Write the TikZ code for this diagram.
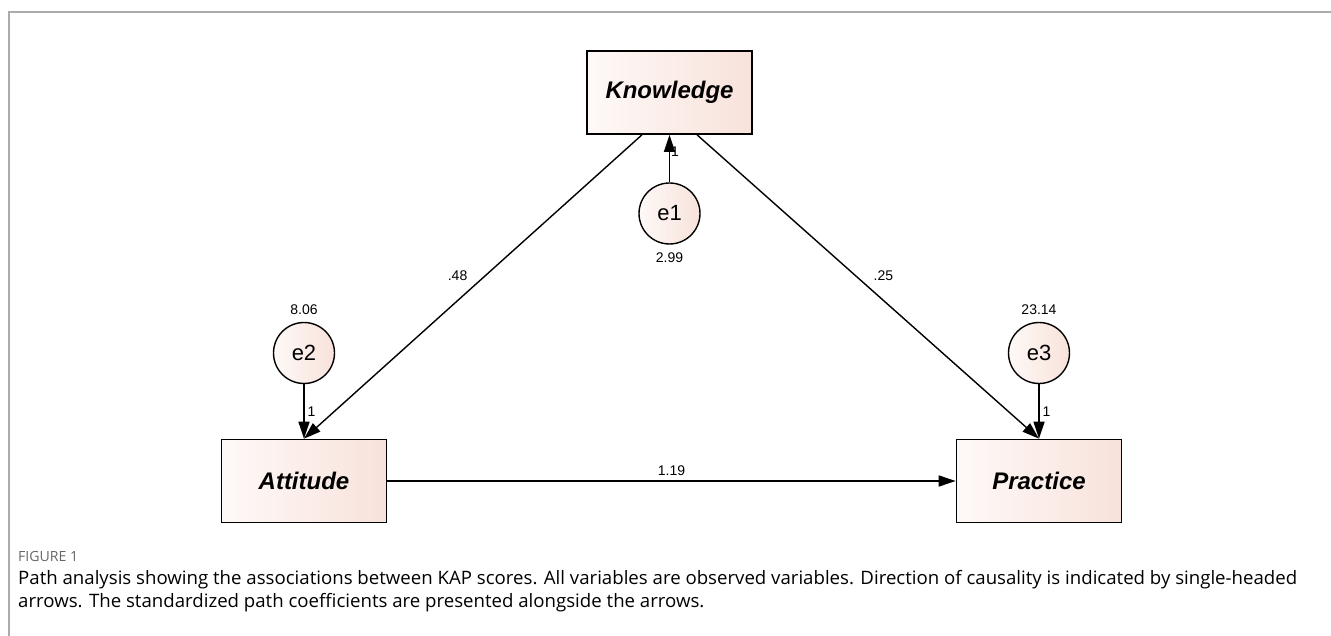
\documentclass[tikz,border=0pt]{standalone}
\usepackage{fontspec}
\setmainfont{Liberation Sans}
\newfontfamily\captionfont{Open Sans}
\usetikzlibrary{arrows.meta}

\definecolor{boxpinkA}{HTML}{F8E2DB}
\definecolor{boxpinkB}{HTML}{FEF9F7}
\definecolor{captiongray}{HTML}{666666}
\definecolor{framegray}{HTML}{ABABAB}

% caption lines, squeezed so that the first line ends where the original does
\newsavebox\caplineone
\newsavebox\caplinetwo
\AtBeginDocument{%
  \sbox\caplineone{\captionfont\fontsize{18.5}{23}\selectfont Path analysis showing the associations between KAP scores. All variables are observed variables. Direction of causality is indicated by single-headed}%
  \sbox\caplinetwo{\captionfont\fontsize{18.5}{23}\selectfont arrows. The standardized path coefficients are presented alongside the arrows.}%
  \pgfmathsetmacro\capsqueeze{1279/\wd\caplineone}%
  \xdef\capsqueeze{\capsqueeze}}

\begin{document}
\begin{tikzpicture}
    [x=1pt,y=-1pt,
     obsvar/.style={draw,line width=1.6pt,rectangle,minimum width=165pt,minimum height=83pt,
       left color=boxpinkB,right color=boxpinkA,font=\fontsize{24}{28}\selectfont\bfseries\itshape},
     errvar/.style={draw,line width=1.4pt,circle,minimum size=61pt,inner sep=0pt,
       left color=boxpinkB,right color=boxpinkA,font=\fontsize{22}{26}\selectfont},
     coef/.style={font=\fontsize{14}{16}\selectfont,inner sep=1pt},
     arr/.style={line width=1.4pt,-{Triangle[length=17pt,width=11pt]}},
     captext/.style={anchor=base west,inner sep=0pt,text=captiongray}]
    \useasboundingbox (0,0) rectangle (1331,636);
    % frame
    \draw[framegray,line width=1.5pt] (9,636) -- (9,12) -- (1331,12);
    % observed variables
    \node[obsvar] (know) at (669.5,92.5) {Knowledge};
    \node[obsvar] (att) at (304,481) {Attitude};
    \node[obsvar] (prac) at (1039,481) {Practice};
    % error terms
    \node[errvar] (e1) at (669.5,213.5) {e1};
    \node[errvar] (e2) at (304,353) {e2};
    \node[errvar] (e3) at (1039,353) {e3};
    \node[coef] (v1) at (669.5,258) {2.99};
    \node[coef] (v2) at (304,310) {8.06};
    \node[coef] (v3) at (1039,310) {23.14};
    % paths
    \draw[arr] (e1) -- (know) node[coef,pos=.65,right] {1};
    \draw[arr] (e2) -- (att) node[coef,midway,right=2pt] {1};
    \draw[arr] (e3) -- (prac) node[coef,midway,right=2pt] {1};
    \draw[arr] ([xshift=-27.5pt]know.south) -- (att.north) node[coef,pos=.5,above left=4pt] {.48};
    \draw[arr] ([xshift=27.5pt]know.south) -- (prac.north) node[coef,pos=.5,above right=4pt] {.25};
    \draw[arr] (att) -- (prac) node[coef,midway,above=4pt] {1.19};
    % caption
    \node[captext,font=\captionfont\fontsize{14}{16}\selectfont] (fig) at (18,561)
      {\scalebox{\capsqueeze}[1]{FIGURE 1}};
    \node[captext] (capa) at (18,584) {\scalebox{\capsqueeze}[1]{\usebox\caplineone}};
    \node[captext] (capb) at (18,607) {\scalebox{\capsqueeze}[1]{\usebox\caplinetwo}};
\end{tikzpicture}
\end{document}
